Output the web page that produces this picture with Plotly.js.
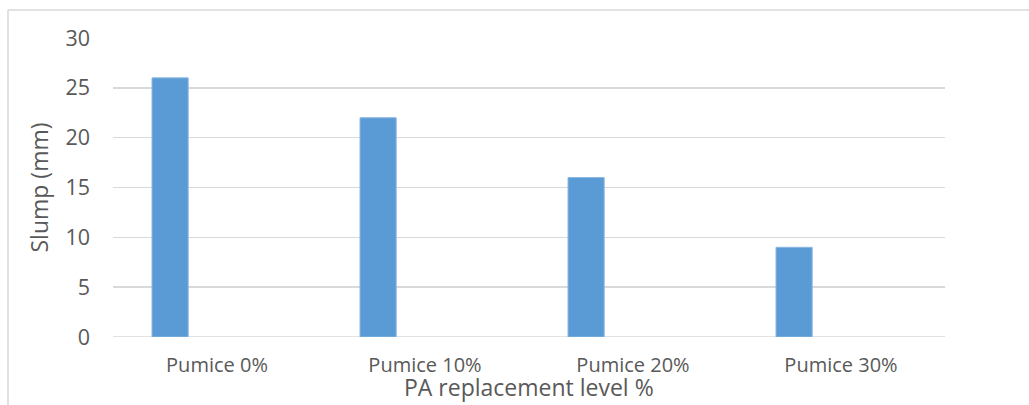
<!DOCTYPE html>
<html>
<head>
<meta charset="utf-8">
<script src="https://cdn.plot.ly/plotly-3.0.1.min.js"></script>
<style>
  html, body { margin: 0; padding: 0; background: #ffffff; }
  #chart { width: 1029px; height: 405px; }
</style>
</head>
<body>
<div id="chart"></div>
<script>
// Slump of concrete mixes by pumice replacement level
const categories = ['Pumice 0%', 'Pumice 10%', 'Pumice 20%', 'Pumice 30%'];
const slumpValues = [26, 22, 16, 9];
const yTicks = [0, 5, 10, 15, 20, 25, 30];

const textColor = '#595959';
const gridColor = '#d9d9d9';
const fontFamily = '"Open Sans", "Noto Sans", sans-serif';

const trace = {
  type: 'bar',
  x: categories,
  y: slumpValues,
  width: 0.174,
  offset: -0.3125,
  marker: {
    color: '#5b9bd5',
    line: { color: '#8db8e2', width: 1 }
  },
  hoverinfo: 'x+y'
};

const layout = {
  width: 1029,
  height: 405,
  margin: { l: 113, r: 84, t: 38, b: 68, pad: 0 },
  paper_bgcolor: '#ffffff',
  plot_bgcolor: '#ffffff',
  showlegend: false,
  font: { family: fontFamily, color: textColor, size: 20 },
  xaxis: {
    type: 'category',
    showgrid: false,
    zeroline: false,
    showline: false,
    ticks: '',
    ticklabelstandoff: 14,
    tickfont: { size: 20, color: textColor }
  },
  yaxis: {
    range: [0, 30],
    tickvals: yTicks,
    showgrid: true,
    gridcolor: gridColor,
    gridwidth: 1.5,
    zeroline: false,
    showline: false,
    ticks: '',
    ticklabelstandoff: 22,
    tickfont: { size: 21.5, color: textColor },
    title: {
      text: 'Slump (mm)',
      font: { size: 23, color: textColor },
      standoff: 10
    }
  },
  annotations: [
    // x-axis title, placed just under the category labels
    { text: 'PA replacement level %', xref: 'paper', yref: 'paper', x: 0.5, y: -0.2274,
      xanchor: 'center', yanchor: 'bottom', showarrow: false,
      font: { size: 23, color: textColor, family: fontFamily } }
  ],
  shapes: [
    // outer chart frame (top and left edges)
    { type: 'line', xref: 'paper', yref: 'paper', x0: -0.1262, x1: 1.2, y0: 1.0936, y1: 1.0936,
      line: { color: gridColor, width: 1.5 } },
    { type: 'line', xref: 'paper', yref: 'paper', x0: -0.1262, x1: -0.1262, y0: 1.0936, y1: -0.4,
      line: { color: gridColor, width: 1.5 } },
    // baseline drawn across the plot width
    { type: 'line', xref: 'paper', yref: 'y', x0: 0, x1: 1, y0: 0, y1: 0,
      line: { color: gridColor, width: 1.5 }, layer: 'below' }
  ]
};

Plotly.newPlot('chart', [trace], layout, { displayModeBar: false, staticPlot: true });
</script>
</body>
</html>
